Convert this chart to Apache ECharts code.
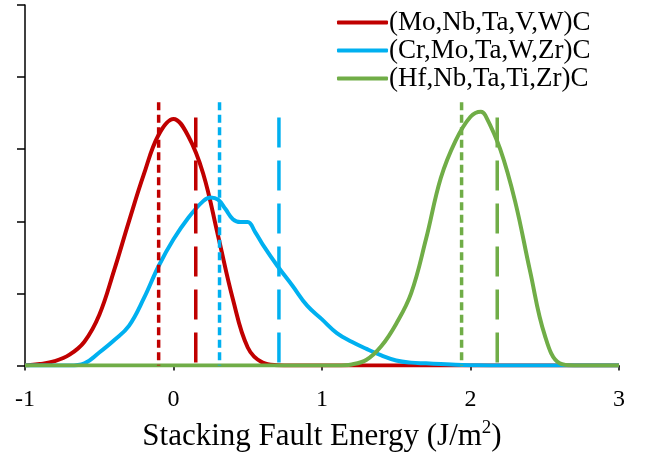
<!DOCTYPE html>
<html>
<head>
<meta charset="utf-8">
<script src="https://cdn.jsdelivr.net/npm/echarts@6/dist/echarts.min.js"></script>
<style>html,body{margin:0;padding:0;background:#fff}#c{width:647px;height:457px}</style>
</head>
<body>
<div id="c"></div>
<script>
// ---- data ----
const seriesNames = ['(Mo,Nb,Ta,V,W)C', '(Cr,Mo,Ta,W,Zr)C', '(Hf,Nb,Ta,Ti,Zr)C'];
const xTicks = [-1, 0, 1, 2, 3];

const xRed = [-1, -0.9, -0.8, -0.7, -0.6, -0.5, -0.4, -0.3, -0.2, -0.1, 0, 0.1, 0.2, 0.3, 0.4, 0.5, 0.6, 0.7, 0.8, 1.5, 2.0, 3.0];
const yRed = [0, 0.02, 0.06, 0.15, 0.33, 0.7, 1.32, 2.0, 2.65, 3.2, 3.42, 3.18, 2.66, 1.8, 0.92, 0.25, 0.04, 0.005, 0, 0, 0, 0];

const xBlue = [-1, -0.7, -0.6, -0.5, -0.4, -0.3, -0.2, -0.1, 0, 0.1, 0.2, 0.25, 0.3, 0.35, 0.4, 0.45, 0.5, 0.55, 0.6, 0.7, 0.8, 0.9, 1.0, 1.1, 1.2, 1.3, 1.4, 1.5, 1.6, 1.7, 1.8, 1.9, 2.0, 2.2, 3.0];
const yBlue = [0, 0, 0.03, 0.18, 0.35, 0.55, 0.93, 1.38, 1.75, 2.05, 2.28, 2.33, 2.3, 2.17, 2.03, 1.99, 1.99, 1.85, 1.68, 1.38, 1.11, 0.83, 0.64, 0.45, 0.33, 0.23, 0.14, 0.07, 0.04, 0.03, 0.02, 0.01, 0.005, 0, 0];

const xGreen = [-1, 1.0, 1.1, 1.2, 1.3, 1.4, 1.5, 1.6, 1.7, 1.8, 1.9, 2.0, 2.07, 2.1, 2.2, 2.3, 2.4, 2.5, 2.6, 2.7, 3.0];
const yGreen = [0, 0, 0, 0.015, 0.08, 0.27, 0.58, 1.0, 1.75, 2.6, 3.12, 3.45, 3.52, 3.47, 3.0, 2.28, 1.32, 0.42, 0.03, 0, 0];

// vertical marker lines (dotted / dashed per composition)
const vlineX = [-0.1, 0.15, 0.31, 0.71, 1.94, 2.18];
const vlineTop = [3.65, 3.44, 3.65, 3.44, 3.65, 3.44];
const vlineGroup = [0, 0, 1, 1, 2, 2];
const vlineKind = ['dotted', 'dashed', 'dotted', 'dashed', 'dotted', 'dashed'];

// ---- styling ----
const colors = ['#C00000', '#00B0F0', '#70AD47'];
const FONT = '"Liberation Serif","Times New Roman",serif';
const zip = (xs, ys) => xs.map((x, i) => [x, ys[i]]);

const curves = [[xRed, yRed], [xBlue, yBlue], [xGreen, yGreen]].map((d, i) => ({
  name: seriesNames[i],
  type: 'line',
  data: zip(d[0], d[1]),
  smooth: 0.4,
  symbol: 'none',
  lineStyle: { color: colors[i], width: 4 },
  itemStyle: { color: colors[i] },
  z: 2 + i,
  animation: false
}));

const vlines = vlineX.map((x, i) => ({
  name: 'v' + i,
  type: 'line',
  data: [[x, vlineTop[i]], [x, 0]],
  symbol: 'none',
  lineStyle: {
    color: colors[vlineGroup[i]],
    width: 3.5,
    type: vlineKind[i] === 'dotted' ? [8, 4.5] : [30, 13],
    cap: 'butt'
  },
  z: 10,
  silent: true,
  animation: false
}));

const chart = echarts.init(document.getElementById('c'), null, { renderer: 'canvas' });
chart.setOption({
  backgroundColor: '#ffffff',
  animation: false,
  grid: { left: 25, right: 28, top: 5, bottom: 90, containLabel: false },
  legend: {
    data: seriesNames.map((n, i) => ({ name: n, icon: 'roundRect', itemStyle: { color: colors[i] } })),
    orient: 'vertical',
    left: 332,
    top: 4,
    itemWidth: 51,
    itemHeight: 4,
    itemGap: 1,
    textStyle: { fontFamily: FONT, fontSize: 27, color: '#000', padding: [0, 0, 0, -4] }
  },
  xAxis: {
    type: 'value',
    min: -1, max: 3, interval: 1,
    axisLine: { show: true, onZero: false, lineStyle: { color: '#000', width: 1.5 } },
    axisTick: { show: true, inside: false, length: 5, lineStyle: { color: '#000', width: 1.5 } },
    axisLabel: { fontFamily: FONT, fontSize: 24, color: '#000', margin: 22,
      formatter: v => (xTicks.indexOf(v) >= 0 ? String(v) : '') },
    splitLine: { show: false },
    name: '{a|Stacking Fault Energy (J/m}{b|2}{a|)}',
    nameLocation: 'middle',
    nameGap: 53,
    nameTextStyle: {
      rich: {
        a: { fontFamily: FONT, fontSize: 31, color: '#000', lineHeight: 36 },
        b: { fontFamily: FONT, fontSize: 19, color: '#000', lineHeight: 24, verticalAlign: 'top' }
      }
    }
  },
  yAxis: {
    type: 'value',
    min: 0, max: 5, interval: 1,
    axisLine: { show: true, onZero: false, lineStyle: { color: '#000', width: 1.5 } },
    axisTick: { show: true, inside: false, length: 8, lineStyle: { color: '#000', width: 1.5 } },
    axisLabel: { show: false },
    splitLine: { show: false }
  },
  series: curves.concat(vlines)
});
</script>
</body>
</html>
